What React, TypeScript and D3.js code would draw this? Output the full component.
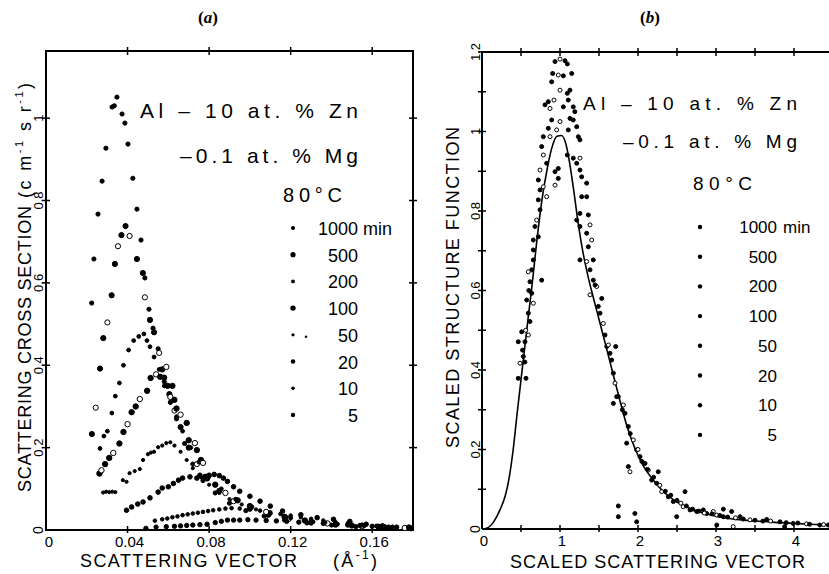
import React from "react";
import * as d3 from "d3";

// ---------- Panel (a): scattering cross section vs scattering vector ----------
const aXTicks = [0, 0.04, 0.08, 0.12, 0.16];
const aXTickLabels = ["0", "0.04", "0.08", "0.12", "0.16"];
const aYTicks = [0.2, 0.4, 0.6, 0.8, 1];
const aYTickLabels = ["0.2", "0.4", "0.6", "0.8", "1"];

const a1000: [number, number][] = [
  [0.0224, 0.551], [0.0235, 0.658], [0.0255, 0.767], [0.0275, 0.847], [0.0294, 0.927], [0.0324, 1.027],
  [0.0335, 1.03], [0.0348, 1.051], [0.0373, 1.01], [0.0387, 0.988], [0.0402, 0.937], [0.0426, 0.854],
  [0.0446, 0.779], [0.0466, 0.704], [0.0485, 0.612], [0.0505, 0.536], [0.0525, 0.49], [0.055, 0.44],
  [0.058, 0.36], [0.061, 0.31], [0.064, 0.27], [0.068, 0.21], [0.072, 0.16], [0.077, 0.12], [0.083, 0.09],
  [0.09, 0.065], [0.098, 0.047], [0.107, 0.034], [0.117, 0.024], [0.128, 0.017], [0.14, 0.012],
  [0.152, 0.008], [0.165, 0.006], [0.177, 0.004],
];
const a500: [number, number][] = [
  [0.0225, 0.233], [0.0244, 0.297], [0.0265, 0.392], [0.0281, 0.466], [0.0301, 0.504], [0.0322, 0.57],
  [0.0338, 0.646], [0.0353, 0.689], [0.037, 0.716], [0.039, 0.738], [0.041, 0.714], [0.0446, 0.658],
  [0.0475, 0.624], [0.0485, 0.565], [0.051, 0.51], [0.053, 0.48], [0.0555, 0.43], [0.058, 0.37],
  [0.0605, 0.33], [0.063, 0.29], [0.066, 0.25], [0.07, 0.2], [0.074, 0.16], [0.079, 0.125], [0.085, 0.095],
  [0.092, 0.07], [0.1, 0.052], [0.109, 0.037], [0.119, 0.027], [0.13, 0.019], [0.142, 0.013],
  [0.155, 0.009], [0.168, 0.006], [0.179, 0.004],
];
const a200: [number, number][] = [
  [0.0265, 0.198], [0.0284, 0.228], [0.0301, 0.24], [0.0323, 0.284], [0.034, 0.325], [0.036, 0.357],
  [0.038, 0.4], [0.0405, 0.437], [0.043, 0.46], [0.0455, 0.47], [0.048, 0.476], [0.0495, 0.46],
  [0.051, 0.445], [0.053, 0.42], [0.0555, 0.39], [0.058, 0.35], [0.061, 0.31], [0.064, 0.275],
  [0.067, 0.24], [0.071, 0.2], [0.075, 0.165], [0.08, 0.13], [0.086, 0.1], [0.093, 0.075], [0.101, 0.056],
  [0.11, 0.04], [0.12, 0.029], [0.131, 0.02], [0.143, 0.014], [0.156, 0.01], [0.17, 0.006],
];
const a100: [number, number][] = [
  [0.0262, 0.137], [0.0272, 0.145], [0.029, 0.16], [0.031, 0.175], [0.033, 0.187], [0.036, 0.21],
  [0.038, 0.238], [0.04, 0.257], [0.042, 0.286], [0.044, 0.3], [0.046, 0.318], [0.0496, 0.338],
  [0.0513, 0.369], [0.054, 0.378], [0.056, 0.372], [0.057, 0.39], [0.059, 0.396], [0.0596, 0.35],
  [0.062, 0.35], [0.061, 0.323], [0.063, 0.316], [0.064, 0.295], [0.066, 0.28], [0.069, 0.26],
  [0.07, 0.218], [0.073, 0.211], [0.074, 0.194], [0.076, 0.17], [0.077, 0.163], [0.079, 0.129],
  [0.083, 0.11], [0.088, 0.09], [0.094, 0.072], [0.1, 0.058], [0.108, 0.044], [0.117, 0.032],
  [0.127, 0.023], [0.138, 0.016], [0.15, 0.011], [0.163, 0.008], [0.176, 0.005],
];
const a50: [number, number][] = [
  [0.028, 0.091], [0.0295, 0.093], [0.031, 0.092], [0.0325, 0.093], [0.034, 0.092], [0.0377, 0.121],
  [0.0395, 0.117], [0.041, 0.138], [0.0435, 0.143], [0.046, 0.148], [0.0476, 0.17], [0.05, 0.184],
  [0.0515, 0.188], [0.053, 0.19], [0.055, 0.201], [0.057, 0.205], [0.059, 0.211], [0.061, 0.213],
  [0.063, 0.205], [0.066, 0.19], [0.069, 0.17], [0.072, 0.15], [0.076, 0.128], [0.08, 0.11],
  [0.085, 0.09], [0.09, 0.075], [0.096, 0.062], [0.103, 0.05], [0.11, 0.04], [0.118, 0.031],
  [0.127, 0.024], [0.137, 0.018], [0.148, 0.013], [0.16, 0.009], [0.172, 0.006],
];
const a20: [number, number][] = [
  [0.0395, 0.048], [0.042, 0.056], [0.045, 0.063], [0.0476, 0.068], [0.051, 0.078], [0.055, 0.092],
  [0.057, 0.102], [0.06, 0.105], [0.0625, 0.113], [0.065, 0.121], [0.067, 0.126], [0.0706, 0.129],
  [0.074, 0.126], [0.0755, 0.133], [0.078, 0.13], [0.08, 0.133], [0.0825, 0.135], [0.085, 0.132],
  [0.087, 0.126], [0.089, 0.118], [0.092, 0.105], [0.095, 0.094], [0.1, 0.082], [0.105, 0.07],
  [0.11, 0.058], [0.116, 0.046], [0.125, 0.037], [0.133, 0.03], [0.141, 0.026], [0.149, 0.021],
  [0.157, 0.014], [0.165, 0.01], [0.178, 0.007],
];
const a10: [number, number][] = [
  [0.0534, 0.0226], [0.057, 0.026], [0.0595, 0.028], [0.062, 0.031], [0.0645, 0.033], [0.067, 0.036],
  [0.0695, 0.038], [0.072, 0.04], [0.0745, 0.042], [0.077, 0.044], [0.0795, 0.046], [0.082, 0.048],
  [0.085, 0.05], [0.088, 0.052], [0.091, 0.053], [0.095, 0.052], [0.1, 0.05], [0.105, 0.047],
  [0.11, 0.043], [0.115, 0.039], [0.12, 0.035], [0.125, 0.031], [0.13, 0.027], [0.136, 0.023],
  [0.142, 0.019], [0.148, 0.016], [0.155, 0.013], [0.162, 0.01], [0.17, 0.008], [0.178, 0.006],
];
const a5: [number, number][] = [
  [0.049, 0.004], [0.054, 0.007], [0.059, 0.008], [0.063, 0.009], [0.066, 0.01], [0.069, 0.011],
  [0.072, 0.012], [0.0755, 0.013], [0.079, 0.014], [0.083, 0.018], [0.086, 0.021], [0.089, 0.024],
  [0.092, 0.024], [0.095, 0.024], [0.099, 0.025], [0.103, 0.024], [0.108, 0.023], [0.113, 0.022],
  [0.118, 0.021], [0.124, 0.019], [0.13, 0.017], [0.136, 0.016], [0.142, 0.014], [0.148, 0.012],
  [0.154, 0.011], [0.16, 0.009], [0.166, 0.008], [0.172, 0.007], [0.178, 0.006],
];
const aSeries = [a1000, a500, a200, a100, a50, a20, a10, a5];
const legendLabels = ["1000", "500", "200", "100", "50", "20", "10", "5"];
const markerR = [2.1, 2.6, 1.9, 2.7, 1.6, 2.3, 1.8, 2.2];

// ---------- Panel (b): scaled structure function ----------
const bXTicks = [0, 1, 2, 3, 4];
const bXTickLabels = ["0", "1", "2", "3", "4"];
const bXMinor = [0.5, 1, 1.5, 2, 2.5, 3, 3.5, 4, 4.5];
const bYMinor = [0.1, 0.2, 0.3, 0.4, 0.5, 0.6, 0.7, 0.8, 0.9, 1.0, 1.1, 1.2];
const bYTicks = [0.2, 0.4, 0.6, 0.8, 1, 1.2];
const bYTickLabels = ["0.2", "0.4", "0.6", "0.8", "1", "1.2"];

const bCurve: [number, number][] = [
  [0, 0], [0.06, 0.002], [0.15, 0.018], [0.23, 0.048], [0.3, 0.085], [0.34, 0.12], [0.4, 0.2],
  [0.45, 0.29], [0.5, 0.375], [0.55, 0.46], [0.6, 0.545], [0.64, 0.61], [0.7, 0.72], [0.77, 0.83],
  [0.83, 0.9], [0.89, 0.955], [0.96, 0.988], [1.02, 0.99], [1.08, 0.965], [1.12, 0.925], [1.17, 0.86],
  [1.24, 0.76], [1.3, 0.69], [1.36, 0.635], [1.43, 0.58], [1.51, 0.52], [1.6, 0.452], [1.68, 0.39],
  [1.77, 0.322], [1.86, 0.258], [1.96, 0.203], [2.07, 0.158], [2.2, 0.122], [2.32, 0.095], [2.5, 0.068],
  [2.71, 0.048], [2.92, 0.036], [3.14, 0.027], [3.5, 0.02], [3.82, 0.016], [4.2, 0.012], [4.6, 0.009],
];

const bPoints: [number, number][] = [
  [0.936, 1.176], [1.0, 1.182], [1.064, 1.178], [1.094, 1.17], [0.906, 1.146], [0.978, 1.142],
  [1.043, 1.14], [1.15, 1.146], [0.893, 1.125], [1.0, 1.104], [1.094, 1.096], [1.128, 1.104],
  [0.85, 1.075], [0.923, 1.079], [1.106, 1.079], [1.17, 1.062], [0.808, 1.067], [0.872, 1.058],
  [1.043, 1.062], [1.19, 1.05], [0.893, 1.029], [1.0, 1.025], [1.128, 1.033], [1.17, 1.029],
  [0.85, 1.008], [0.957, 1.004], [1.214, 1.012], [1.106, 1.004], [0.786, 0.987], [0.872, 0.987],
  [1.235, 0.987], [0.765, 0.962], [1.256, 0.979], [0.786, 0.941], [1.094, 0.941], [1.17, 0.933],
  [1.214, 0.92], [1.256, 0.933], [0.978, 0.907], [0.936, 0.899], [0.829, 0.92], [0.744, 0.903],
  [1.256, 0.903], [1.278, 0.886], [0.978, 0.882], [0.936, 0.865], [1.342, 0.87], [0.722, 0.878],
  [0.744, 0.853], [0.786, 0.861], [1.342, 0.836], [1.278, 0.836], [0.722, 0.828], [0.829, 0.836],
  [0.744, 0.803], [1.256, 0.794], [1.363, 0.79], [0.701, 0.777], [1.214, 0.777], [0.679, 0.761],
  [1.256, 0.761], [1.385, 0.765], [1.342, 0.744], [0.658, 0.727], [0.722, 0.735], [1.406, 0.727],
  [0.658, 0.702], [1.363, 0.71], [1.256, 0.677], [1.342, 0.673], [1.427, 0.677], [0.658, 0.677],
  [0.637, 0.652], [0.594, 0.647], [0.765, 0.626], [1.385, 0.652], [1.427, 0.626], [1.47, 0.61],
  [0.615, 0.622], [0.637, 0.593], [0.573, 0.576], [0.658, 0.568], [0.594, 0.543], [0.615, 0.522],
  [0.509, 0.496], [0.594, 0.488], [0.465, 0.471], [0.551, 0.471], [0.53, 0.434], [0.487, 0.417],
  [0.465, 0.379], [0.564, 0.379], [0.6, 0.6], [0.56, 0.5], [0.52, 0.45], [0.55, 0.42],
  [1.449, 0.614], [1.385, 0.589], [1.535, 0.58], [1.513, 0.543], [1.491, 0.56], [1.555, 0.517],
  [1.577, 0.488], [1.6, 0.459], [1.714, 0.459], [1.62, 0.463], [1.641, 0.442], [1.663, 0.425],
  [1.684, 0.392], [1.705, 0.367], [1.727, 0.333], [1.684, 0.316], [1.748, 0.333], [1.812, 0.312],
  [1.833, 0.291], [1.876, 0.258], [1.855, 0.216], [1.94, 0.224], [1.983, 0.199], [2.026, 0.182],
  [2.09, 0.165], [2.132, 0.148], [2.26, 0.144], [2.175, 0.123], [2.24, 0.115], [2.304, 0.094],
  [2.389, 0.081], [2.603, 0.094], [2.453, 0.069], [2.58, 0.056], [2.667, 0.048], [2.753, 0.044],
  [2.88, 0.039], [3.009, 0.035], [3.094, 0.031], [2.496, 0.031], [2.837, 0.048], [2.965, 0.044],
  [3.094, 0.05], [3.2, 0.044], [3.308, 0.031], [3.436, 0.023], [3.65, 0.024], [3.82, 0.018],
  [3.99, 0.014], [4.16, 0.013], [4.33, 0.01], [4.44, 0.01], [3.01, 0.01], [3.22, 0.006], [3.88, 0.006],
  [1.8, 0.3], [1.9, 0.24], [2.0, 0.2], [2.05, 0.17], [2.12, 0.15], [2.2, 0.13], [2.28, 0.11],
  [2.35, 0.095], [2.42, 0.085], [2.5, 0.072], [2.55, 0.065], [2.62, 0.058], [2.7, 0.05], [2.78, 0.045],
  [2.85, 0.04], [2.95, 0.038], [3.05, 0.034], [3.15, 0.03], [3.25, 0.028], [3.35, 0.025], [3.5, 0.022],
  [3.6, 0.02], [3.7, 0.02], [3.9, 0.016], [4.05, 0.015], [4.2, 0.012], [4.38, 0.011],
  [1.748, 0.058], [1.748, 0.031], [1.876, 0.157], [1.897, 0.144], [1.96, 0.039], [1.983, 0.018],
];

const FONT = "'Liberation Sans', Arial, sans-serif";

export default function App() {
  // scales
  const xA = d3.scaleLinear().domain([0, 0.18]).range([46, 413]);
  const yA = d3.scaleLinear().domain([0, 1.163]).range([530, 51]);
  const xB = d3.scaleLinear().domain([0, 4.5]).range([482, 833]);
  const yB = d3.scaleLinear().domain([0, 1.2]).range([529, 52]);

  const lineB = d3
    .line<[number, number]>()
    .x((d) => xB(d[0]))
    .y((d) => yB(d[1]))
    .curve(d3.curveMonotoneX);

  const legA = (i: number) => 228 + i * 26.7;
  const legB = (i: number) => 227 + i * 29.7;

  return (
    <svg
      width={829}
      height={574}
      style={{ position: "absolute", left: 0, top: 0, background: "#fff" }}
      fontFamily={FONT}
    >
      <rect x={0} y={0} width={829} height={574} fill="#fff" />

      {/* panel titles */}
      <text x={208} y={23} fontFamily="'Liberation Serif', serif" fontSize={17} textAnchor="middle" fontWeight="bold">
        (<tspan fontStyle="italic">a</tspan>)
      </text>
      <text x={650} y={23} fontFamily="'Liberation Serif', serif" fontSize={17} textAnchor="middle" fontWeight="bold">
        (<tspan fontStyle="italic">b</tspan>)
      </text>

      {/* ================= Panel A ================= */}
      <rect x={46} y={51} width={367} height={479} fill="none" stroke="#000" strokeWidth={2} />
      {aXTicks.slice(1).map((t) => (
        <g key={"axt" + t}>
          <line x1={xA(t)} x2={xA(t)} y1={47} y2={55} stroke="#000" strokeWidth={1.5} />
          <line x1={xA(t)} x2={xA(t)} y1={526} y2={533} stroke="#000" strokeWidth={1.5} />
        </g>
      ))}
      {aYTicks.map((t) => (
        <g key={"ayt" + t}>
          <line x1={42} x2={50} y1={yA(t)} y2={yA(t)} stroke="#000" strokeWidth={1.5} />
          <line x1={409} x2={417} y1={yA(t)} y2={yA(t)} stroke="#000" strokeWidth={1.5} />
        </g>
      ))}
      {aXTicks.map((t, i) => (
        <text key={"axl" + t} x={xA(t) + (i === 0 ? 3 : 2)} y={547} fontSize={15} textAnchor="middle">
          {aXTickLabels[i]}
        </text>
      ))}
      {aYTicks.map((t, i) => (
        <text
          key={"ayl" + t}
          transform={`translate(43,${yA(t)}) rotate(-90)`}
          fontSize={13}
          textAnchor="middle"
        >
          {aYTickLabels[i]}
        </text>
      ))}
      <text transform={`translate(43,${yA(0)}) rotate(-90)`} fontSize={14} textAnchor="middle">
        0
      </text>
      <text x={80} y={567} fontSize={18} textLength={217} lengthAdjust="spacing">
        SCATTERING VECTOR
      </text>
      <text x={333} y={567} fontSize={18} textLength={44} lengthAdjust="spacing">
        (Å<tspan fontSize={12} dy={-8}>-1</tspan>
        <tspan dy={8}>)</tspan>
      </text>
      <text transform="translate(31,492) rotate(-90)" fontSize={18} textLength={286} lengthAdjust="spacing">
        SCATTERING CROSS SECTION
      </text>
      <text transform="translate(31,198) rotate(-90)" fontSize={18} textLength={115} lengthAdjust="spacing">
        (c m<tspan fontSize={11} dy={-8}>-1</tspan>
        <tspan dy={8}> s r</tspan>
        <tspan fontSize={11} dy={-8}>-1</tspan>
        <tspan dy={8}>)</tspan>
      </text>

      {/* data A */}
      {aSeries.map((s, si) =>
        s.map((d, i) => (
          <circle
            key={`a${si}-${i}`}
            cx={xA(d[0])}
            cy={yA(d[1])}
            r={markerR[si]}
            fill={(si === 1 || si === 3) && i % 3 === 1 ? "#fff" : "#000"}
            stroke="#000"
            strokeWidth={1}
          />
        ))
      )}

      {/* legend A */}
      <text x={140} y={118} fontSize={21} textLength={218} lengthAdjust="spacing">
        Al – 10 at. % Zn
      </text>
      <text x={180} y={163} fontSize={21} textLength={178} lengthAdjust="spacing">
        –0.1 at. % Mg
      </text>
      <text x={283} y={202} fontSize={20} textLength={59} lengthAdjust="spacing">
        80°C
      </text>
      {legendLabels.map((l, i) => (
        <g key={"la" + l}>
          <circle cx={293} cy={legA(i)} r={markerR[i]} fill="#000" />
          {i === 4 && <circle cx={306} cy={legA(i) + 2} r={1.2} fill="#000" />}
          <text x={358} y={legA(i) + 7} fontSize={18} textAnchor="end">
            {l}
          </text>
          {i === 0 && (
            <text x={363} y={legA(i) + 7} fontSize={18}>
              min
            </text>
          )}
        </g>
      ))}

      {/* ================= Panel B ================= */}
      <line x1={482} x2={482} y1={51} y2={529} stroke="#000" strokeWidth={2} />
      <line x1={482} x2={829} y1={52} y2={52} stroke="#000" strokeWidth={2} />
      <line x1={482} x2={829} y1={529} y2={529} stroke="#000" strokeWidth={2} />
      {bXMinor.map((t) => (
        <g key={"bxt" + t}>
          <line x1={xB(t)} x2={xB(t)} y1={48} y2={56} stroke="#000" strokeWidth={1.5} />
          <line x1={xB(t)} x2={xB(t)} y1={525} y2={532} stroke="#000" strokeWidth={1.5} />
        </g>
      ))}
      {bYMinor.map((t) => (
        <line key={"byt" + t} x1={478} x2={486} y1={yB(t)} y2={yB(t)} stroke="#000" strokeWidth={1.5} />
      ))}
      {bXTicks.map((t, i) => (
        <text key={"bxl" + t} x={xB(t) + 2} y={546} fontSize={15} textAnchor="middle">
          {bXTickLabels[i]}
        </text>
      ))}
      {bYTicks.map((t, i) => (
        <text
          key={"byl" + t}
          transform={`translate(480,${yB(t)}) rotate(-90)`}
          fontSize={13}
          textAnchor="middle"
        >
          {bYTickLabels[i]}
        </text>
      ))}
      <text transform={`translate(480,${yB(0)}) rotate(-90)`} fontSize={14} textAnchor="middle">
        0
      </text>
      <text x={510} y={568} fontSize={18} textLength={295} lengthAdjust="spacing">
        SCALED SCATTERING VECTOR
      </text>
      <text transform="translate(459,448) rotate(-90)" fontSize={18} textLength={321} lengthAdjust="spacing">
        SCALED STRUCTURE FUNCTION
      </text>

      <path d={lineB(bCurve) || ""} fill="none" stroke="#000" strokeWidth={1.6} />
      {bPoints.map((d, i) => (
        <circle
          key={"bp" + i}
          cx={xB(d[0])}
          cy={yB(d[1])}
          r={2}
          fill={i % 4 === 1 ? "#fff" : "#000"}
          stroke="#000"
          strokeWidth={1}
        />
      ))}

      {/* legend B */}
      <text x={583} y={110} fontSize={19} textLength={214} lengthAdjust="spacing">
        Al – 10 at. % Zn
      </text>
      <text x={623} y={148} fontSize={19} textLength={174} lengthAdjust="spacing">
        –0.1 at. % Mg
      </text>
      <text x={693} y={190} fontSize={19} textLength={59} lengthAdjust="spacing">
        80°C
      </text>
      {legendLabels.map((l, i) => (
        <g key={"lb" + l}>
          <circle cx={700} cy={legB(i)} r={2.2} fill="#000" />
          <text x={777} y={legB(i) + 6} fontSize={17} textAnchor="end">
            {l}
          </text>
          {i === 0 && (
            <text x={783} y={legB(i) + 6} fontSize={17}>
              min
            </text>
          )}
        </g>
      ))}
    </svg>
  );
}
